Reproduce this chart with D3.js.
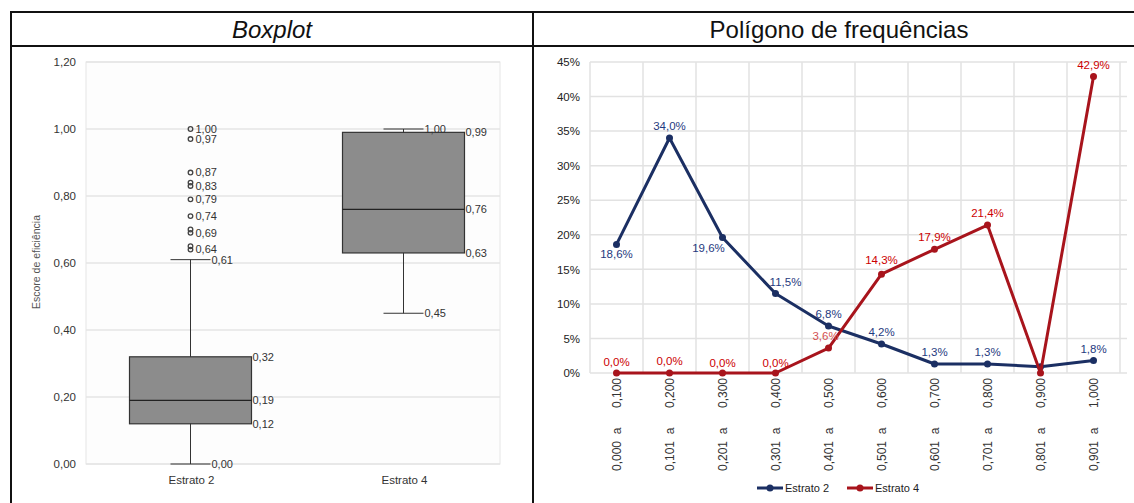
<!DOCTYPE html>
<html><head><meta charset="utf-8">
<script src="https://cdn.jsdelivr.net/npm/d3@7"></script>
<style>
body{margin:0;background:#fff;}
svg{display:block;font-family:"Liberation Sans",Arial,sans-serif;}
</style></head>
<body><svg id="c" width="1134" height="503"></svg>
<script>
// ---------- Data ----------
const boxCategories = ["Estrato 2", "Estrato 4"];
const boxMin    = [0.00, 0.45];
const boxQ1     = [0.12, 0.63];
const boxMedian = [0.19, 0.76];
const boxQ3     = [0.32, 0.99];
const boxMax    = [0.61, 1.00];
const outliersE2 = [1.00, 0.97, 0.87, 0.84, 0.83, 0.79, 0.74, 0.70, 0.69, 0.65, 0.64];
const outlierLabelsE2 = [1.00, 0.97, 0.87, 0.83, 0.79, 0.74, 0.69, 0.64];
const boxTicks = [0, 0.2, 0.4, 0.6, 0.8, 1.0, 1.2];

const freqLow  = ["0,000","0,101","0,201","0,301","0,401","0,501","0,601","0,701","0,801","0,901"];
const freqHigh = ["0,100","0,200","0,300","0,400","0,500","0,600","0,700","0,800","0,900","1,000"];
const estrato2 = [18.6, 34.0, 19.6, 11.5, 6.8, 4.2, 1.3, 1.3, 0.9, 1.8];
const estrato4 = [0.0, 0.0, 0.0, 0.0, 3.6, 14.3, 17.9, 21.4, 0.0, 42.9];
const label2 = ["18,6%","34,0%","19,6%","11,5%","6,8%","4,2%","1,3%","1,3%","","1,8%"];
const label4 = ["0,0%","0,0%","0,0%","0,0%","3,6%","14,3%","17,9%","21,4%","","42,9%"];
const freqTicks = [0,5,10,15,20,25,30,35,40,45];

const svg = d3.select("#c");
const fmt = v => d3.format(".2f")(v).replace(".", ",");

// ---------- Frame / header ----------
svg.append("line").attr("x1",10).attr("x2",1134).attr("y1",12).attr("y2",12).attr("stroke","#111").attr("stroke-width",2);
svg.append("line").attr("x1",10).attr("x2",1134).attr("y1",46).attr("y2",46).attr("stroke","#111").attr("stroke-width",2);
svg.append("line").attr("x1",11).attr("x2",11).attr("y1",11).attr("y2",503).attr("stroke","#111").attr("stroke-width",2);
svg.append("line").attr("x1",533).attr("x2",533).attr("y1",11).attr("y2",503).attr("stroke","#111").attr("stroke-width",2);
svg.append("text").attr("x",272).attr("y",38).attr("text-anchor","middle").attr("font-size",24).attr("font-style","italic").attr("fill","#111").text("Boxplot");
svg.append("text").attr("x",839).attr("y",38).attr("text-anchor","middle").attr("font-size",24).attr("fill","#111").text("Polígono de frequências");

// ---------- Boxplot ----------
const bx = d3.scaleBand().domain(boxCategories).range([85, 511]).padding(0);
const by = d3.scaleLinear().domain([0, 1.2]).range([464, 62]);
const gB = svg.append("g");
gB.append("rect").attr("x",86).attr("y",62).attr("width",414).attr("height",402).attr("fill","#fdfdfd").attr("stroke","#e6e6e6");
gB.selectAll("line.grid").data(boxTicks).join("line").attr("class","grid")
  .attr("x1",86).attr("x2",500).attr("y1",d=>by(d)).attr("y2",d=>by(d)).attr("stroke","#e4e4e4").attr("stroke-width",1.5);
const yAxB = d3.axisLeft(by).tickValues(boxTicks).tickFormat(fmt).tickSize(0).tickPadding(10);
const gYB = gB.append("g").attr("transform","translate(86,0)").call(yAxB);
gYB.select(".domain").remove();
gYB.selectAll("text").attr("font-size",11.5).attr("fill","#333").attr("font-family","Liberation Sans, Arial, sans-serif");
const xAxB = d3.axisBottom(bx).tickSize(0).tickPadding(12);
const gXB = gB.append("g").attr("transform","translate(0,464)").call(xAxB);
gXB.select(".domain").remove();
gXB.selectAll("text").attr("font-size",11.5).attr("fill","#333").attr("font-family","Liberation Sans, Arial, sans-serif");
gB.append("text").attr("transform","translate(40,262) rotate(-90)").attr("text-anchor","middle").attr("font-size",10.5).attr("fill","#555").text("Escore de eficiência");

const boxW = 122, capW = 40;
boxCategories.forEach((c,i)=>{
  const cx = bx(c) + bx.bandwidth()/2 - 1;
  const g = gB.append("g");
  g.append("line").attr("x1",cx).attr("x2",cx).attr("y1",by(boxMin[i])).attr("y2",by(boxMax[i])).attr("stroke","#333");
  g.append("line").attr("x1",cx-capW/2).attr("x2",cx+capW/2).attr("y1",by(boxMin[i])).attr("y2",by(boxMin[i])).attr("stroke","#333");
  g.append("line").attr("x1",cx-capW/2).attr("x2",cx+capW/2).attr("y1",by(boxMax[i])).attr("y2",by(boxMax[i])).attr("stroke","#333");
  g.append("rect").attr("x",cx-boxW/2).attr("y",by(boxQ3[i])).attr("width",boxW).attr("height",by(boxQ1[i])-by(boxQ3[i]))
    .attr("fill","#8c8c8c").attr("stroke","#333").attr("stroke-width",1.2);
  g.append("line").attr("x1",cx-boxW/2).attr("x2",cx+boxW/2).attr("y1",by(boxMedian[i])).attr("y2",by(boxMedian[i])).attr("stroke","#222").attr("stroke-width",1.3);
  const lab = (v,x)=>g.append("text").attr("x",x).attr("y",by(v)).attr("dy","0.35em").attr("font-size",11).attr("fill","#333").text(fmt(v));
  lab(boxQ3[i], cx+boxW/2+1); lab(boxMedian[i], cx+boxW/2+1); lab(boxQ1[i], cx+boxW/2+1);
  lab(boxMin[i], cx+capW/2+1); lab(boxMax[i], cx+capW/2+1);
  if(i===0){
    g.selectAll("circle").data(outliersE2).join("circle").attr("cx",cx).attr("cy",d=>by(d)).attr("r",2.3)
      .attr("fill","none").attr("stroke","#444").attr("stroke-width",1.3);
    g.selectAll("text.ol").data(outlierLabelsE2).join("text").attr("class","ol").attr("x",cx+5).attr("y",d=>by(d)).attr("dy","0.35em")
      .attr("font-size",11).attr("fill","#333").text(fmt);
  }
});

// ---------- Frequency polygon ----------
const fx = d3.scaleBand().domain(freqHigh).range([590, 1120]).padding(0);
const fy = d3.scaleLinear().domain([0, 45]).range([373, 62]);
const gF = svg.append("g");
gF.selectAll("line.hg").data(freqTicks).join("line").attr("class","hg")
  .attr("x1",590).attr("x2",1127).attr("y1",d=>fy(d)).attr("y2",d=>fy(d)).attr("stroke","#e2e2e2").attr("stroke-width",1.5);
gF.selectAll("line.vg").data(d3.range(11)).join("line").attr("class","vg")
  .attr("x1",d=>590+d*fx.bandwidth()).attr("x2",d=>590+d*fx.bandwidth()).attr("y1",62).attr("y2",373).attr("stroke","#e2e2e2").attr("stroke-width",1.5);
const yAxF = d3.axisLeft(fy).tickValues(freqTicks).tickFormat(d=>d+"%").tickSize(0).tickPadding(10);
const gYF = gF.append("g").attr("transform","translate(590,0)").call(yAxF);
gYF.select(".domain").remove();
gYF.selectAll("text").attr("font-size",11.5).attr("fill","#222").attr("font-family","Liberation Sans, Arial, sans-serif");
const xAxF = d3.axisBottom(fx).tickSize(0).tickFormat("");
const gXF = gF.append("g").attr("transform","translate(0,373)").call(xAxF);
gXF.select(".domain").remove();
freqHigh.forEach((h,i)=>{
  const cx = fx(h) + fx.bandwidth()/2 + 4;
  gF.append("text").attr("transform",`translate(${cx},378) rotate(-90)`).attr("text-anchor","end").attr("font-size",12).attr("fill","#333").text(h);
  gF.append("text").attr("transform",`translate(${cx},431) rotate(-90)`).attr("text-anchor","middle").attr("font-size",12).attr("fill","#333").text("a");
  gF.append("text").attr("transform",`translate(${cx},471) rotate(-90)`).attr("text-anchor","start").attr("font-size",12).attr("fill","#333").text(freqLow[i]);
});

const c2 = "#1b2f63", c2t = "#1f3a80", c4 = "#a8141c", c4t = "#cc0000";
const line = d3.line().x((d,i)=>fx(freqHigh[i])+fx.bandwidth()/2).y(d=>fy(d));
function series(vals, col){
  gF.append("path").datum(vals).attr("d",line).attr("fill","none").attr("stroke",col).attr("stroke-width",3).attr("stroke-linejoin","round");
  gF.selectAll(null).data(vals).join("circle").attr("cx",(d,i)=>fx(freqHigh[i])+fx.bandwidth()/2).attr("cy",d=>fy(d)).attr("r",3.5).attr("fill",col);
}
series(estrato2, c2);
series(estrato4, c4);

// labels offsets (dx,dy) relative to point
const off2 = [[0,14],[0,-8],[-14,14],[10,-8],[0,-8],[0,-8],[0,-8],[0,-8],[0,0],[0,-8]];
const off4 = [[0,-7],[0,-8],[0,-6],[0,-6],[-3,-8],[0,-10],[0,-8],[0,-8],[0,0],[0,-8]];
gF.selectAll(null).data(estrato2).join("text")
  .attr("x",(d,i)=>fx(freqHigh[i])+fx.bandwidth()/2+off2[i][0]).attr("y",(d,i)=>fy(d)+off2[i][1])
  .attr("text-anchor","middle").attr("font-size",11.5).attr("fill",c2t).text((d,i)=>label2[i]);
gF.selectAll(null).data(estrato4).join("text")
  .attr("x",(d,i)=>fx(freqHigh[i])+fx.bandwidth()/2+off4[i][0]).attr("y",(d,i)=>fy(d)+off4[i][1])
  .attr("text-anchor","middle").attr("font-size",11.5).attr("fill",(d,i)=>i===4?"#d45050":c4t).text((d,i)=>label4[i]);

// legend
const leg = [{name:"Estrato 2",col:c2,x:757},{name:"Estrato 4",col:c4,x:847}];
leg.forEach(l=>{
  const g = svg.append("g").attr("transform",`translate(${l.x},488)`);
  g.append("line").attr("x1",0).attr("x2",26).attr("y1",0).attr("y2",0).attr("stroke",l.col).attr("stroke-width",3);
  g.append("circle").attr("cx",13).attr("cy",0).attr("r",3.5).attr("fill",l.col);
  g.append("text").attr("x",28).attr("y",0).attr("dy","0.35em").attr("font-size",11).attr("fill","#222").text(l.name);
});
</script></body></html>
